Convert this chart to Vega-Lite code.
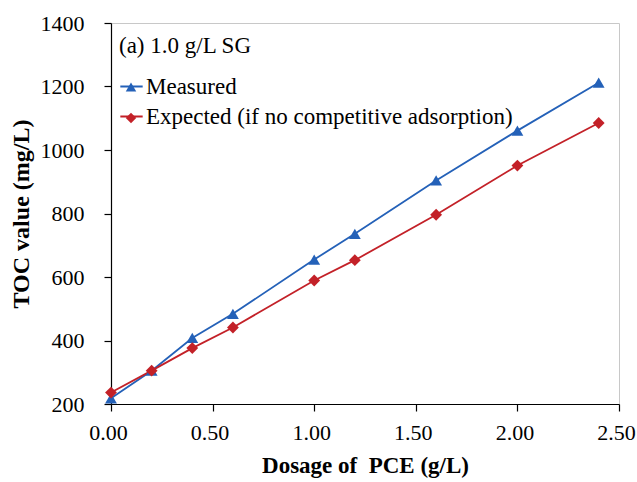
{
  "$schema": "https://vega.github.io/schema/vega-lite/v6.json",
  "width": 508,
  "height": 381,
  "autosize": "none",
  "padding": {"left": 111, "top": 23, "right": 18, "bottom": 78},
  "background": "white",
  "config": {
    "font": "Liberation Serif",
    "view": {"stroke": "#c8c8c8", "strokeWidth": 1},
    "axis": {
      "grid": false,
      "domainColor": "black",
      "domainWidth": 1.2,
      "tickColor": "black",
      "tickWidth": 1.2,
      "tickSize": 7,
      "labelColor": "black",
      "labelFontSize": 22,
      "labelFont": "Liberation Serif",
      "labelFlush": false,
      "labelOverlap": false,
      "titleFont": "Liberation Serif",
      "titleFontWeight": "bold",
      "titleColor": "black"
    },
    "legend": {
      "labelFont": "Liberation Serif",
      "titleFont": "Liberation Serif"
    }
  },
  "data": {
    "values": [
      {"dose": 0.0, "toc": 218, "series": "Measured"},
      {"dose": 0.2, "toc": 305, "series": "Measured"},
      {"dose": 0.4, "toc": 408, "series": "Measured"},
      {"dose": 0.6, "toc": 484, "series": "Measured"},
      {"dose": 1.0, "toc": 655, "series": "Measured"},
      {"dose": 1.2, "toc": 736, "series": "Measured"},
      {"dose": 1.6, "toc": 904, "series": "Measured"},
      {"dose": 2.0, "toc": 1061, "series": "Measured"},
      {"dose": 2.4, "toc": 1212, "series": "Measured"},
      {"dose": 0.0, "toc": 236, "series": "Expected (if no competitive adsorption)"},
      {"dose": 0.2, "toc": 305, "series": "Expected (if no competitive adsorption)"},
      {"dose": 0.4, "toc": 376, "series": "Expected (if no competitive adsorption)"},
      {"dose": 0.6, "toc": 441, "series": "Expected (if no competitive adsorption)"},
      {"dose": 1.0, "toc": 589, "series": "Expected (if no competitive adsorption)"},
      {"dose": 1.2, "toc": 653, "series": "Expected (if no competitive adsorption)"},
      {"dose": 1.6, "toc": 796, "series": "Expected (if no competitive adsorption)"},
      {"dose": 2.0, "toc": 951, "series": "Expected (if no competitive adsorption)"},
      {"dose": 2.4, "toc": 1085, "series": "Expected (if no competitive adsorption)"}
    ]
  },
  "encoding": {
    "x": {
      "field": "dose",
      "type": "quantitative",
      "scale": {"domain": [0, 2.5], "nice": false, "zero": false},
      "axis": {
        "values": [0, 0.5, 1, 1.5, 2, 2.5],
        "format": ".2f",
        "labelPadding": 11,
        "labelOffset": -3,
        "title": "Dosage of\u00a0 PCE (g/L)",
        "titleFontSize": 23,
        "titlePadding": 11
      }
    },
    "y": {
      "field": "toc",
      "type": "quantitative",
      "scale": {"domain": [200, 1400], "nice": false, "zero": false},
      "axis": {
        "values": [200, 400, 600, 800, 1000, 1200, 1400],
        "format": "d",
        "labelPadding": 20,
        "title": "TOC value (mg/L)",
        "titleFontSize": 24,
        "titlePadding": 7
      }
    }
  },
  "layer": [
    {
      "mark": {"type": "line", "strokeWidth": 1.8},
      "encoding": {
        "color": {
          "field": "series",
          "type": "nominal",
          "sort": null,
          "scale": {
            "domain": ["Measured", "Expected (if no competitive adsorption)"],
            "range": ["#2461b8", "#c32128"]
          },
          "legend": {
            "orient": "none",
            "legendX": 8,
            "legendY": 12,
            "title": "(a) 1.0 g/L SG",
            "titleFontSize": 23,
            "titleFontWeight": "normal",
            "titleColor": "black",
            "titlePadding": 16,
            "titleLimit": 0,
            "labelFontSize": 23,
            "labelColor": "black",
            "labelOffset": 2,
            "labelLimit": 0,
            "symbolType": "stroke",
            "symbolSize": 500,
            "symbolStrokeWidth": 2,
            "rowPadding": 5
          }
        }
      }
    },
    {
      "mark": {"type": "point", "filled": true, "opacity": 1},
      "encoding": {
        "color": {
          "field": "series",
          "type": "nominal",
          "sort": null,
          "scale": {
            "domain": ["Measured", "Expected (if no competitive adsorption)"],
            "range": ["#2461b8", "#c32128"]
          },
          "legend": {
            "orient": "none",
            "legendX": 14,
            "legendY": 58,
            "title": null,
            "labelExpr": "''",
            "symbolSize": 110,
            "symbolOpacity": 1,
            "rowPadding": 14
          }
        },
        "shape": {
          "field": "series",
          "type": "nominal",
          "sort": null,
          "scale": {
            "domain": ["Measured", "Expected (if no competitive adsorption)"],
            "range": ["triangle-up", "diamond"]
          }
        },
        "size": {"value": 140}
      }
    }
  ],
  "resolve": {"scale": {"color": "independent", "shape": "independent"}}
}
